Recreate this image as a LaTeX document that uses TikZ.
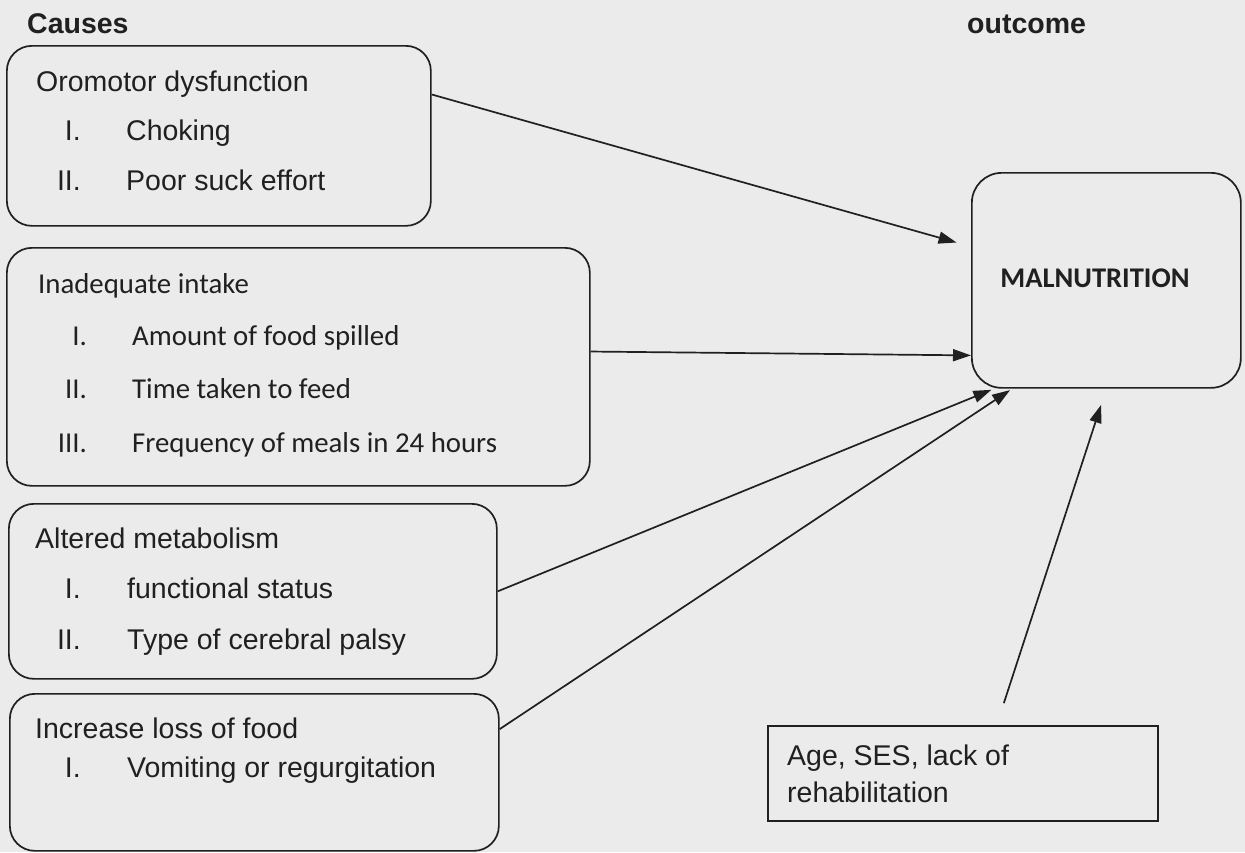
\documentclass[tikz,border=0pt]{standalone}
\usepackage{fontspec}
\setmainfont{Liberation Sans}
\newfontfamily\calfont{Carlito}
\usetikzlibrary{arrows.meta}
\definecolor{bg}{RGB}{235,235,235}
\definecolor{ink}{RGB}{32,32,32}
\begin{document}
\begin{tikzpicture}[x=1pt,y=-1pt,
  box/.style={draw=ink, line width=1.7pt, rounded corners=25pt, inner sep=0pt, anchor=north west},
  sqbox/.style={draw=ink, line width=1.7pt, inner sep=0pt, anchor=north west},
  txt/.style={anchor=base west, inner sep=0pt, text=ink, font=\fontsize{28.5}{34}\selectfont},
  ctxt/.style={anchor=base west, inner sep=0pt, text=ink, font=\calfont\fontsize{28.8}{34}\selectfont},
  num/.style={txt, anchor=base east},
  cnum/.style={ctxt, anchor=base east},
  arr/.style={draw=ink, line width=1.7pt, -{Triangle[length=18pt,width=12pt]}}]
\useasboundingbox (0,0) rectangle (1245,852);
\fill[bg] (0,0) rectangle (1245,852);

% boxes
\node[box, minimum width=424pt, minimum height=180pt] (b1) at (6,45) {};
\node[box, minimum width=583pt, minimum height=238pt] (b2) at (6,247) {};
\node[box, minimum width=488pt, minimum height=175pt] (b3) at (8,503) {};
\node[box, minimum width=489pt, minimum height=157pt] (b4) at (9,693) {};
\node[box, rounded corners=30pt, minimum width=269pt, minimum height=215pt] (mal) at (971,172) {};
\node[sqbox, minimum width=390pt, minimum height=95pt] (age) at (767,725) {};

% headings
\node[txt, font=\bfseries\fontsize{28.5}{34}\selectfont] (causes) at (27,33) {Causes};
\node[txt, font=\bfseries\fontsize{28.5}{34}\selectfont] (outcome) at (967,33) {outcome};

% box 1
\node[txt] (t1) at (36,91) {Oromotor dysfunction};
\node[num] (n11) at (81,140) {I.};
\node[txt] (t11) at (126,140) {Choking};
\node[num] (n12) at (81,190) {II.};
\node[txt] (t12) at (126,190) {Poor suck effort};

% box 2
\node[ctxt] (t2) at (38,293) {Inadequate intake};
\node[cnum] (n21) at (87,345) {I.};
\node[ctxt] (t21) at (132,345) {Amount of food spilled};
\node[cnum] (n22) at (87,398) {II.};
\node[ctxt] (t22) at (132,398) {Time taken to feed};
\node[cnum] (n23) at (87,452) {III.};
\node[ctxt] (t23) at (132,452) {Frequency of meals in 24 hours};

% box 3
\node[txt] (t3) at (35,548) {Altered metabolism};
\node[num] (n31) at (81,598) {I.};
\node[txt] (t31) at (127,598) {functional status};
\node[num] (n32) at (81,649) {II.};
\node[txt] (t32) at (127,649) {Type of cerebral palsy};

% box 4
\node[txt] (t4) at (35,738) {Increase loss of food};
\node[num] (n41) at (81,777) {I.};
\node[txt] (t41) at (127,777) {Vomiting or regurgitation};

% outcome box
\node[ctxt, anchor=base, font=\calfont\bfseries\fontsize{28.5}{34}\selectfont] (malt) at (1095,287) {MALNUTRITION};

% age box
\node[txt] (ta1) at (787,765) {Age, SES, lack of};
\node[txt] (ta2) at (787,802) {rehabilitation};

% arrows
\draw[arr, shorten >=15pt] (b1.11.5) -- (mal.166.4);
\draw[arr] (b2.3.5) -- (mal.209.9);
\draw[arr, shorten >=3pt] (b3.0.6) -- (mal.224.2);
\draw[arr, shorten >=2.5pt] (b4.10.3) -- (mal.229.9);
\draw[arr, shorten <=23pt, shorten >=17pt] (age.55.2) -- (mal.south);
\end{tikzpicture}
\end{document}
